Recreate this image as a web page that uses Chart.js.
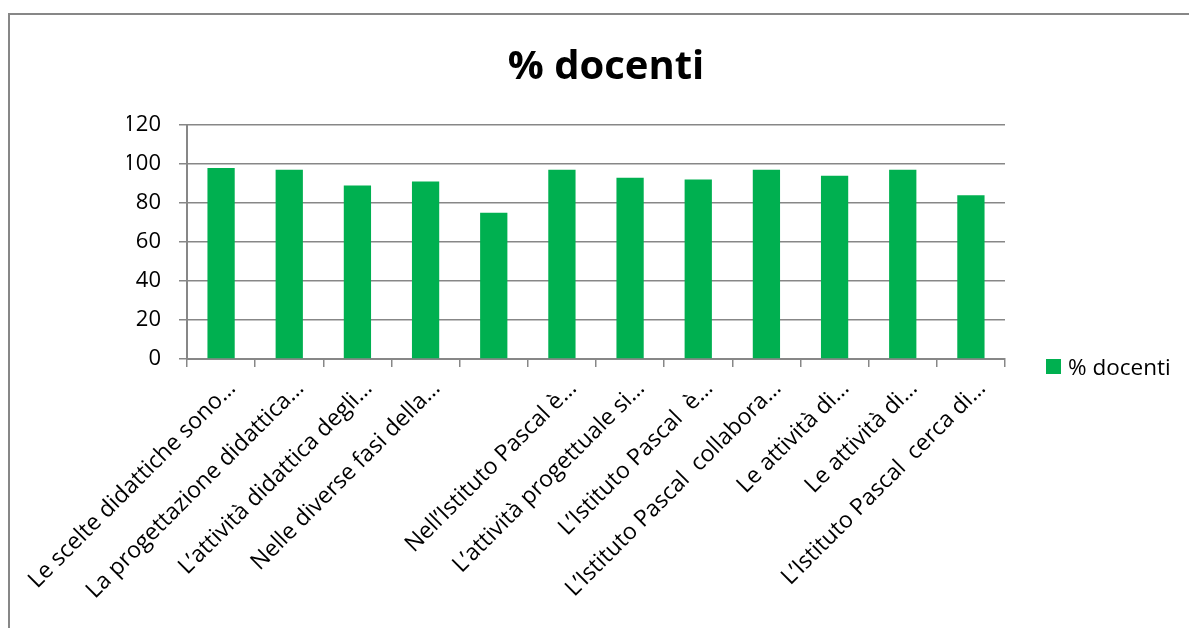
<!DOCTYPE html>
<html lang="it">
<head>
<meta charset="utf-8">
<title>% docenti</title>
<script src="https://cdn.jsdelivr.net/npm/chart.js"></script>
<style>
html, body { margin: 0; padding: 0; background: #fff; overflow: hidden; }
#wrap { position: relative; width: 1189px; height: 628px; font-family: "Open Sans", sans-serif; }
#cornice { position: absolute; left: 8px; top: 13px; width: 1300px; height: 700px;
  border-left: 2px solid #878787; border-top: 2px solid #878787; }
#titolo { position: absolute; left: 406px; width: 400px; top: 44px; line-height: 40px;
  text-align: center; font-weight: bold; font-size: 40px; color: #000; }
#legenda { position: absolute; left: 1046px; top: 354px; height: 24px; display: flex;
  align-items: center; font-size: 22.5px; color: #000; white-space: nowrap; }
#legenda span.box { width: 15px; height: 15px; background: #00B050; margin-right: 7px; }
canvas { position: absolute; left: 0; top: 0; }
</style>
</head>
<body>
<div id="wrap">
  <div id="cornice"></div>
  <canvas id="grafico" width="1189" height="628"></canvas>
  <div id="titolo">% docenti</div>
  <div id="legenda"><span class="box"></span><span>% docenti</span></div>
</div>
<script>
// dati
const categorie = [
  "Le scelte didattiche sono…",
  "La progettazione didattica…",
  "L’attività didattica degli…",
  "Nelle diverse fasi della…",
  "",
  "Nell’Istituto Pascal è…",
  "L’attività progettuale si…",
  "L’Istituto Pascal  è…",
  "L’Istituto Pascal  collabora…",
  "Le attività di…",
  "Le attività di…",
  "L’Istituto Pascal  cerca di…"
];
const nomeSerie = "% docenti";
const valori = [98, 97, 89, 91, 75, 97, 93, 92, 97, 94, 97, 84];

// asse y
const yMin = 0;
const yMax = 120;
const yPasso = 20;

const grigio = "#878787";

const canvas = document.getElementById("grafico");

new Chart(canvas, {
  type: "bar",
  data: {
    labels: categorie,
    datasets: [{
      label: nomeSerie,
      data: valori,
      backgroundColor: "#00B050",
      barPercentage: 0.4,
      categoryPercentage: 1
    }]
  },
  options: {
    responsive: false,
    animation: false,
    layout: {
      padding: { left: 127, right: 184, top: 125, bottom: 0 }
    },
    plugins: {
      legend: { display: false },
      title: { display: false },
      tooltip: { enabled: false }
    },
    scales: {
      x: {
        grid: {
          display: true,
          drawOnChartArea: false,
          offset: true,
          color: grigio,
          lineWidth: 1.5,
          tickLength: 8
        },
        border: { color: grigio, width: 2 },
        ticks: {
          autoSkip: false,
          minRotation: 45,
          maxRotation: 45,
          labelOffset: 11,
          padding: 8,
          color: "#000",
          font: { family: "'Open Sans', sans-serif", size: 23 }
        },
        afterFit: s => { s.height = 269; }
      },
      y: {
        min: yMin,
        max: yMax,
        grid: {
          color: grigio,
          lineWidth: 1.5,
          tickLength: 8
        },
        border: { color: grigio, width: 2 },
        ticks: {
          stepSize: yPasso,
          padding: 18,
          color: "#000",
          font: { family: "'Open Sans', sans-serif", size: 22 }
        },
        afterFit: s => { s.width = 60; }
      }
    }
  }
});
</script>
</body>
</html>
